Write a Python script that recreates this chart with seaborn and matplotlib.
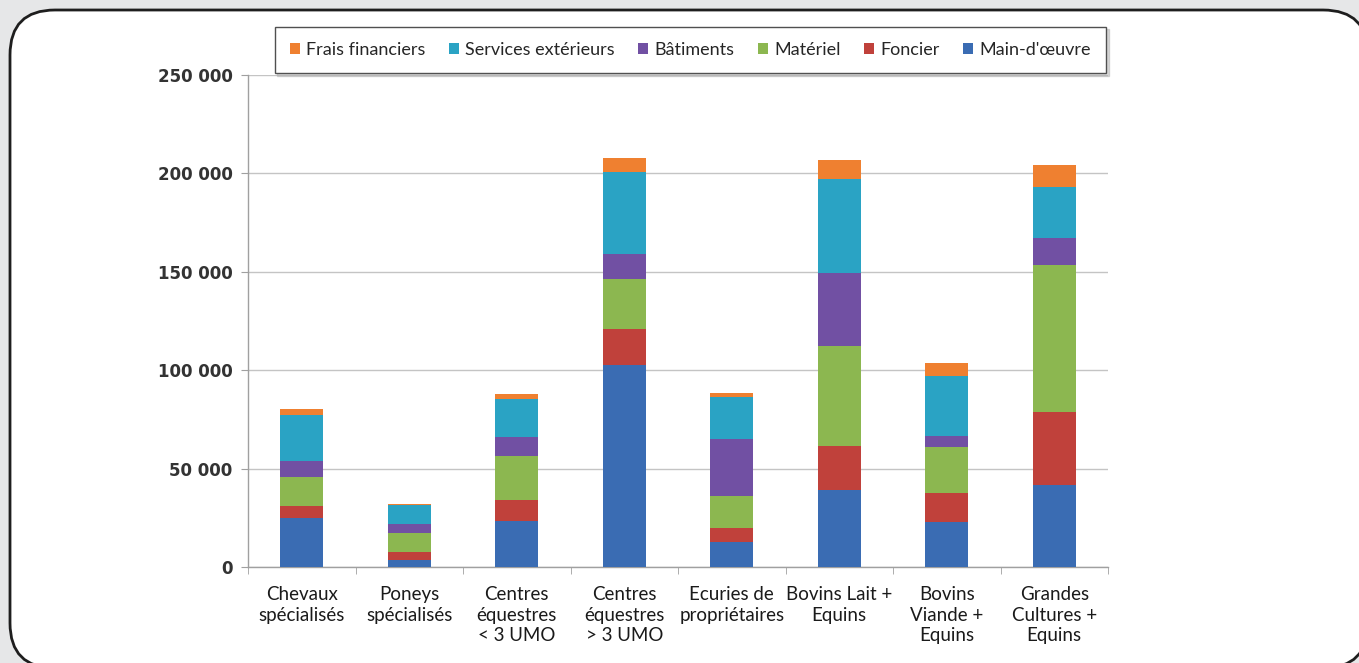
import matplotlib
matplotlib.use("Agg")
import matplotlib.pyplot as plt
import seaborn as sns
import numpy as np
from matplotlib.patches import FancyBboxPatch, Patch
from matplotlib.transforms import IdentityTransform

categories = ["Chevaux\nspécialisés", "Poneys\nspécialisés", "Centres\néquestres\n< 3 UMO",
              "Centres\néquestres\n> 3 UMO", "Ecuries de\npropriétaires", "Bovins Lait +\nEquins",
              "Bovins\nViande +\nEquins", "Grandes\nCultures +\nEquins"]

main_oeuvre = [24900, 3500, 23500, 102600, 12500, 39100, 22700, 41650]
foncier = [6200, 4100, 10500, 18100, 7100, 22350, 15050, 36950]
materiel = [14400, 9650, 22350, 25700, 16600, 51000, 23350, 75000]
batiments = [8300, 4400, 9500, 12400, 28800, 37000, 5400, 13400]
services = [23550, 9650, 19300, 42000, 21200, 47600, 30650, 26300]
frais = [2700, 800, 3000, 7100, 2000, 9700, 6300, 10900]

series = ["Main-d'œuvre", "Foncier", "Matériel", "Bâtiments", "Services extérieurs", "Frais financiers"]
values = [main_oeuvre, foncier, materiel, batiments, services, frais]
colors = ["#3a6cb3", "#c0413b", "#8cb750", "#7150a3", "#2aa3c4", "#ef8030"]

yticks = [0, 50000, 100000, 150000, 200000, 250000]

sns.set_style("white")
plt.rcParams["font.family"] = ["Lato", "DejaVu Sans"]

W, H = 1359, 663
fig = plt.figure(figsize=(W / 100, H / 100), dpi=100)
fig.patch.set_facecolor("#e6e7e8")

# rounded white frame, in pixels
frame = FancyBboxPatch((10, -5), 1358, 658, boxstyle="round,pad=0,rounding_size=45",
                       transform=IdentityTransform(), facecolor="white",
                       edgecolor="#1e1e1e", linewidth=2, zorder=0)
fig.add_artist(frame)

ax = fig.add_axes([248 / W, 1 - 567 / H, 860 / W, 492 / H])
ax.set_facecolor("white")

# stacked bars: draw cumulative totals from top layer down
cum = np.cumsum(np.array(values), axis=0)
for i in range(len(series) - 1, -1, -1):
    sns.barplot(x=categories, y=cum[i], color=colors[i], width=0.4, saturation=1,
                linewidth=0, ax=ax, zorder=3)

ax.set_xlim(-0.5, 7.5)
ax.set_ylim(0, 250000)
ax.set_yticks(yticks)
ax.set_yticklabels([f"{v:,}".replace(",", " ") for v in yticks],
                   fontfamily="DejaVu Sans", fontweight="bold", fontsize=12, color="#333333")
ax.yaxis.grid(True, color="#c4c4c4", linewidth=1, zorder=0)
ax.set_axisbelow(True)
ax.tick_params(axis="y", length=5, color="#a0a0a0", pad=6, left=True)

ax.set_xticks(range(len(categories)))
ax.set_xticklabels(categories, fontsize=13.5, color="#1a1a1a", linespacing=1.25)
ax.set_xticks(np.arange(-0.5, 8, 1), minor=True)
ax.tick_params(axis="x", which="major", length=0, pad=14)
ax.tick_params(axis="x", which="minor", length=5, color="#a0a0a0", bottom=True)
ax.set_xlabel("")

for s in ["top", "right"]:
    ax.spines[s].set_visible(False)
for s in ["left", "bottom"]:
    ax.spines[s].set_color("#a0a0a0")
    ax.spines[s].set_linewidth(1)

handles = [Patch(facecolor=colors[i], edgecolor="none") for i in range(len(series) - 1, -1, -1)]
labels = [series[i] for i in range(len(series) - 1, -1, -1)]
leg = fig.legend(handles, labels, ncol=6, loc="center",
                 bbox_to_anchor=(690.5 / W, 1 - 50 / H), frameon=True, fancybox=False,
                 edgecolor="#505050", fontsize=13, handlelength=0.55, handleheight=0.55,
                 handletextpad=0.35, columnspacing=1.3, borderpad=0.85,
                 shadow={"color": "#b0b0b0", "alpha": 0.5})
leg.get_frame().set_linewidth(1)

fig.savefig("out.png", dpi=100, facecolor=fig.get_facecolor())
